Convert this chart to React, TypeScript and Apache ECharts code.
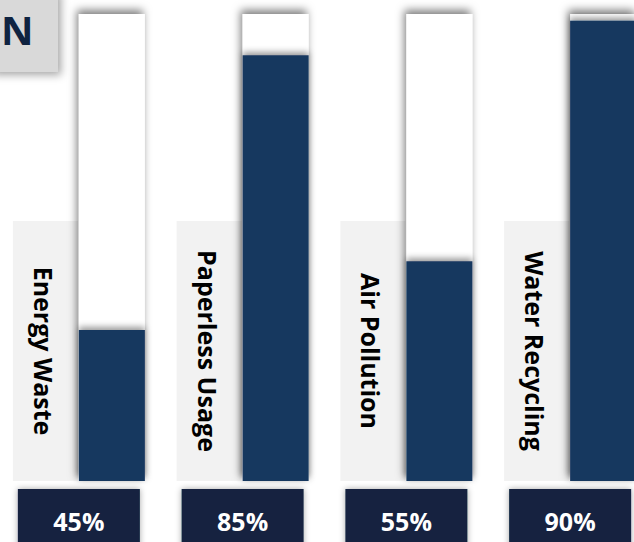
import React, { useEffect, useRef } from "react";
import * as echarts from "echarts";

const categories = ["Energy Waste", "Paperless Usage", "Air Pollution", "Water Recycling"];
const percentValues = [45, 85, 55, 90];
const valueLabels = ["45%", "85%", "55%", "90%"];
const titleFragment = "N";

const Y_MIN = 23;
const Y_MAX = 91;

const FILL_COLOR = "#17375e";
const BOX_COLOR = "#12233f";
const PANEL_COLOR = "#f2f2f2";

export default function App() {
  const ref = useRef<HTMLDivElement>(null);

  useEffect(() => {
    if (!ref.current) return;
    const chart = echarts.init(ref.current, null, { renderer: "svg" });
    const trackValues = categories.map(() => Y_MAX);

    const option: any = {
      animation: false,
      backgroundColor: "#ffffff",
      grid: { left: 30, width: 655, top: 14, bottom: 61, outerBoundsMode: "none", containLabel: false },
      xAxis: {
        type: "category",
        data: categories,
        show: false,
      },
      yAxis: {
        type: "value",
        min: Y_MIN,
        max: Y_MAX,
        show: false,
      },
      graphic: [
        {
          type: "rect",
          shape: { x: -10, y: -10, width: 68, height: 82 },
          style: {
            fill: "#d9d9d9",
            shadowBlur: 8,
            shadowOffsetX: 3,
            shadowOffsetY: 3,
            shadowColor: "rgba(0,0,0,0.35)",
          },
          z: 1,
        },
        {
          type: "text",
          x: 1,
          y: 29,
          style: {
            text: titleFragment,
            font: "bold 40px 'Open Sans'",
            fill: "#0f2341",
            align: "left",
            verticalAlign: "middle",
          },
          z: 2,
        },
      ],
      series: [
        {
          type: "custom",
          z: 1,
          data: categories.map((_, i) => [i, Y_MIN]),
          renderItem: (params: any, api: any) => {
            const idx = api.value(0);
            const base = api.coord([idx, Y_MIN]);
            const cx = base[0];
            const bottom = base[1];
            const panelTop = 221;
            return {
              type: "group",
              children: [
                {
                  type: "rect",
                  shape: { x: cx - 99, y: panelTop, width: 65, height: bottom - panelTop },
                  style: { fill: PANEL_COLOR },
                },
                {
                  type: "text",
                  x: cx - 68,
                  y: (panelTop + bottom) / 2,
                  rotation: -Math.PI / 2,
                  style: {
                    text: categories[idx],
                    font: "bold 25px 'Open Sans'",
                    fill: "#000000",
                    align: "center",
                    verticalAlign: "middle",
                  },
                },
                {
                  type: "rect",
                  shape: { x: cx - 94, y: bottom + 8, width: 122, height: 70 },
                  style: {
                    fill: BOX_COLOR,
                    shadowBlur: 6,
                    shadowColor: "rgba(0,0,0,0.35)",
                  },
                },
                {
                  type: "text",
                  x: cx - 33,
                  y: bottom + 40,
                  style: {
                    text: valueLabels[idx],
                    font: "bold 25px 'Open Sans'",
                    fill: "#ffffff",
                    align: "center",
                    verticalAlign: "middle",
                  },
                },
              ],
            };
          },
        },
        {
          type: "bar",
          z: 2,
          data: trackValues,
          barWidth: 66,
          itemStyle: {
            color: "#ffffff",
            shadowBlur: 9,
            shadowOffsetX: -2,
            shadowOffsetY: -4,
            shadowColor: "rgba(0,0,0,0.5)",
          },
        },
        {
          type: "bar",
          z: 3,
          data: percentValues,
          barWidth: 66,
          barGap: "-100%",
          itemStyle: {
            color: FILL_COLOR,
            shadowBlur: 6,
            shadowOffsetY: -3,
            shadowColor: "rgba(0,0,0,0.4)",
          },
        },
      ],
    };

    chart.setOption(option);
    return () => chart.dispose();
  }, []);

  return (
    <div
      ref={ref}
      style={{ position: "fixed", left: 0, top: 0, width: 634, height: 542, background: "#fff" }}
    />
  );
}
